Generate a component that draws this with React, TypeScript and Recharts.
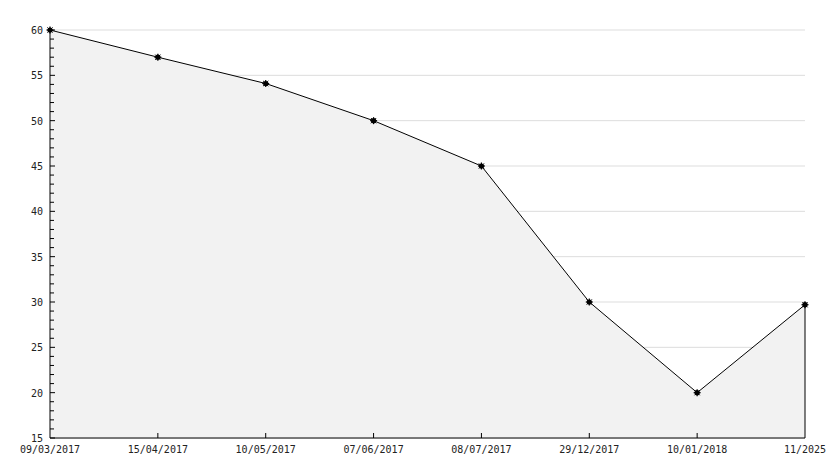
import React from 'react';
import { AreaChart, Area, XAxis, YAxis, CartesianGrid, ReferenceLine } from 'recharts';

const categories = ['09/03/2017', '15/04/2017', '10/05/2017', '07/06/2017', '08/07/2017', '29/12/2017', '10/01/2018', '11/2025'];
const values = [60, 57, 54.1, 50, 45, 30, 20, 29.7];
const majorTicks = [15, 20, 25, 30, 35, 40, 45, 50, 55, 60];
const allTicks = [15, 16, 17, 18, 19, 20, 21, 22, 23, 24, 25, 26, 27, 28, 29, 30, 31, 32, 33, 34, 35, 36, 37, 38, 39, 40, 41, 42, 43, 44, 45, 46, 47, 48, 49, 50, 51, 52, 53, 54, 55, 56, 57, 58, 59, 60];

const data = categories.map((c, i) => ({ date: c, value: values[i] }));

const FONT = '"DejaVu Sans Mono", monospace';

const YTick = (props: any) => {
  const { x, y, payload } = props;
  const isMajor = majorTicks.indexOf(payload.value) >= 0;
  if (!isMajor) {
    return <line x1={x} y1={y} x2={x + 4} y2={y} stroke="#000" strokeWidth={1} />;
  }
  return (
    <g>
      <line x1={x} y1={y} x2={x + 5} y2={y} stroke="#000" strokeWidth={1} />
      <text x={x - 7} y={y + 4} textAnchor="end" fontFamily={FONT} fontSize={10} fill="#222">
        {payload.value}
      </text>
    </g>
  );
};

const XTick = (props: any) => {
  const { x, y, payload, index } = props;
  return (
    <g>
      {index > 0 && index < categories.length - 1 ? (
        <line x1={x} y1={y} x2={x} y2={y - 5} stroke="#000" strokeWidth={1} />
      ) : null}
      <text x={x} y={y + 15} textAnchor="middle" fontFamily={FONT} fontSize={10} fill="#222">
        {payload.value}
      </text>
    </g>
  );
};

const Star = (props: any) => {
  const { cx, cy } = props;
  if (cx == null || cy == null) return null;
  return (
    <g>
      <circle cx={cx} cy={cy} r={2.6} fill="#000" />
      <line x1={cx - 3.5} y1={cy} x2={cx + 3.5} y2={cy} stroke="#000" strokeWidth={1.2} />
      <line x1={cx} y1={cy - 3.5} x2={cx} y2={cy + 3.5} stroke="#000" strokeWidth={1.2} />
      <line x1={cx - 2.6} y1={cy - 2.6} x2={cx + 2.6} y2={cy + 2.6} stroke="#000" strokeWidth={1} />
      <line x1={cx - 2.6} y1={cy + 2.6} x2={cx + 2.6} y2={cy - 2.6} stroke="#000" strokeWidth={1} />
    </g>
  );
};

export default function App() {
  return (
    <div style={{ position: 'absolute', left: 0, top: 0, background: '#fff' }}>
      <AreaChart width={834} height={468} data={data} margin={{ top: 30, right: 29, bottom: 0, left: 0 }}>
        <CartesianGrid vertical={false} stroke="#dddddd" horizontalValues={majorTicks} />
        <XAxis
          dataKey="date"
          tickLine={false}
          tickSize={0}
          tickMargin={0}
          height={30}
          axisLine={{ stroke: '#000' }}
          tick={<XTick />}
          interval={0}
        />
        <YAxis
          domain={[15, 60]}
          ticks={allTicks}
          width={50}
          tickLine={false}
          tickSize={0}
          tickMargin={0}
          axisLine={{ stroke: '#000' }}
          tick={<YTick />}
          interval={0}
        />
        <Area
          type="linear"
          dataKey="value"
          stroke="#000"
          strokeWidth={1}
          fill="#f2f2f2"
          fillOpacity={1}
          dot={<Star />}
          activeDot={false}
          isAnimationActive={false}
        />
        <ReferenceLine
          segment={[
            { x: categories[categories.length - 1], y: 15 },
            { x: categories[categories.length - 1], y: values[values.length - 1] },
          ]}
          stroke="#000"
          strokeWidth={1}
        />
      </AreaChart>
    </div>
  );
}
